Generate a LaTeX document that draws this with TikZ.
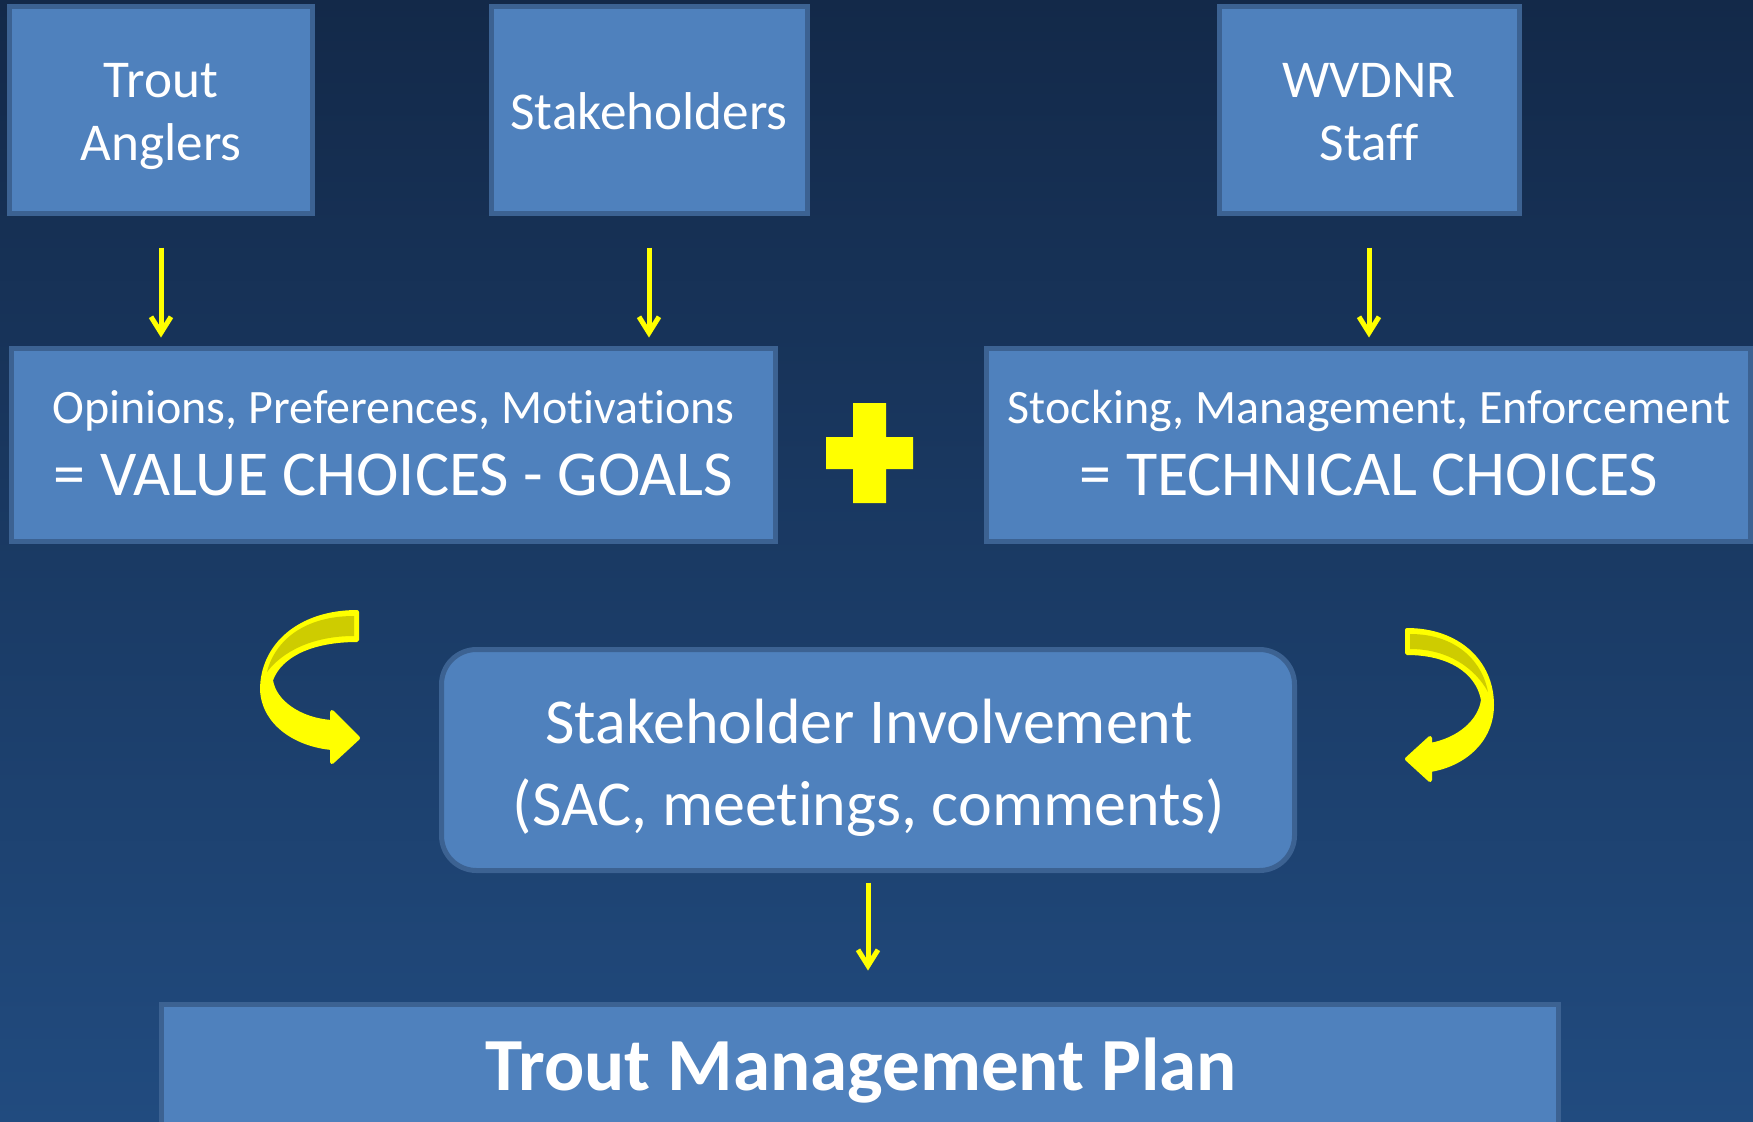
\documentclass[tikz,border=0pt]{standalone}
\usepackage{fontspec}
\setmainfont{Carlito}[Ligatures=NoCommon]
\usetikzlibrary{arrows.meta,calc}

\definecolor{bgtop}{RGB}{19,41,73}
\definecolor{bgbot}{RGB}{33,75,127}
\definecolor{boxfill}{RGB}{79,129,189}
\definecolor{boxline}{RGB}{60,98,146}
\definecolor{hiyellow}{RGB}{255,255,0}
\definecolor{loyellow}{RGB}{206,204,0}

\tikzset{
  box/.style={draw=boxline, line width=2.5pt, fill=boxfill, inner sep=0pt},
  linetext/.style={text=white, anchor=base, inner sep=0pt},
  toptext/.style={linetext, font=\fontsize{26.6pt}{32pt}\selectfont},
  smalltext/.style={linetext, font=\fontsize{24pt}{29pt}\selectfont},
  bigtext/.style={linetext, font=\fontsize{32pt}{38pt}\selectfont},
  flow/.style={draw=hiyellow, line width=2.5pt, -{Straight Barb[length=8pt,width=10pt]}},
  curlarrow/.style={fill=hiyellow, draw=hiyellow, line width=2pt, line join=round},
  curlback/.style={fill=loyellow},
}

\begin{document}
\begin{tikzpicture}[x=0.5pt,y=-0.5pt]
  % page and backdrop
  \useasboundingbox (0,0) rectangle (1753,1121);
  \clip (0,0) rectangle (1753,1121);
  \shade[top color=bgtop, bottom color=bgbot] (0,0) rectangle (1753,1121);

  % top row: sources
  \node[box, minimum width=151.5pt, minimum height=103.5pt] (trout) at (161,110) {};
  \node[box, minimum width=158pt,   minimum height=103.5pt] (stake) at (649,110) {};
  \node[box, minimum width=150pt,   minimum height=103.5pt] (wvdnr) at (1369,110) {};
  \node[toptext] (troutA) at (161,97)  {Trout};
  \node[toptext] (troutB) at (161,160) {Anglers};
  \node[toptext] (stakeA) at (649,129) {Stakeholders};
  \node[toptext] (wvdnrA) at (1369,97)  {WVDNR};
  \node[toptext] (wvdnrB) at (1369,160) {Staff};

  % middle row: choices
  \node[box, minimum width=382pt, minimum height=96.5pt] (values) at (393.5,445) {};
  \node[box, minimum width=382pt, minimum height=96.5pt] (tech)   at (1368.5,445) {};
  \node[smalltext] (valuesA) at (393.5,423) {Opinions, Preferences, Motivations};
  \node[bigtext]   (valuesB) at (393.5,495) {= VALUE CHOICES - GOALS};
  \node[smalltext] (techA)   at (1369,423)  {Stocking, Management, Enforcement};
  \node[bigtext]   (techB)   at (1369,495)  {= TECHNICAL CHOICES};

  % plus sign between the two choice boxes
  \fill[hiyellow] (853,403) -- (886,403) -- (886,437) -- (913,437) -- (913,469) -- (886,469)
    -- (886,503) -- (853,503) -- (853,469) -- (826,469) -- (826,437) -- (853,437) -- cycle;

  % involvement
  \node[box, rounded corners=17.5pt, minimum width=426.5pt, minimum height=110.5pt] (involve) at (868,760) {};
  \node[bigtext] (involveA) at (869,743) {Stakeholder Involvement};
  \node[bigtext] (involveB) at (869,825) {(SAC, meetings, comments)};

  % plan
  \node[box, minimum width=698.5pt, minimum height=100pt] (plan) at (860,1104.5) {};
  \node[linetext, font=\fontsize{37.5pt}{45pt}\selectfont\bfseries] (planA) at (861,1090) {Trout Management Plan};

  % straight connectors
  \draw[flow, shorten <=15.75pt, shorten >=4.25pt] (trout.south) -- (trout.south |- values.north);
  \draw[flow, shorten <=15.75pt, shorten >=4.25pt] (stake.south) -- (stake.south |- values.north);
  \draw[flow, shorten <=15.75pt, shorten >=4.25pt] (wvdnr.south) -- (wvdnr.south |- tech.north);
  \draw[flow, shorten <=4.75pt, shorten >=15.75pt] (involve.south) -- (involve.south |- plan.north);

  % left curved arrow
  \path[curlarrow] (357,612) .. controls (300,612) and (262,645) .. (262,690)
    .. controls (264,725) and (298,745) .. (332,748) -- (332,762) -- (358,738) -- (332,712)
    -- (332,722) .. controls (300,720) and (274,702) .. (271,680)
    .. controls (280,655) and (312,640) .. (357,640) -- cycle;
  \fill[curlback] (354,616) .. controls (305,616) and (275,640) .. (267,672)
    .. controls (282,652) and (312,636) .. (354,636) -- cycle;

  % right curved arrow
  \path[curlarrow] (1407,630) .. controls (1458,630) and (1492,662) .. (1492,705)
    .. controls (1492,742) and (1462,765) .. (1430,770) -- (1430,780) -- (1407,759) -- (1430,738)
    -- (1430,745) .. controls (1458,740) and (1480,722) .. (1483,700)
    .. controls (1478,672) and (1450,653) .. (1407,653) -- cycle;
  \fill[curlback] (1410,634) .. controls (1455,634) and (1482,660) .. (1488,692)
    .. controls (1475,668) and (1448,649) .. (1410,649) -- cycle;
\end{tikzpicture}
\end{document}
